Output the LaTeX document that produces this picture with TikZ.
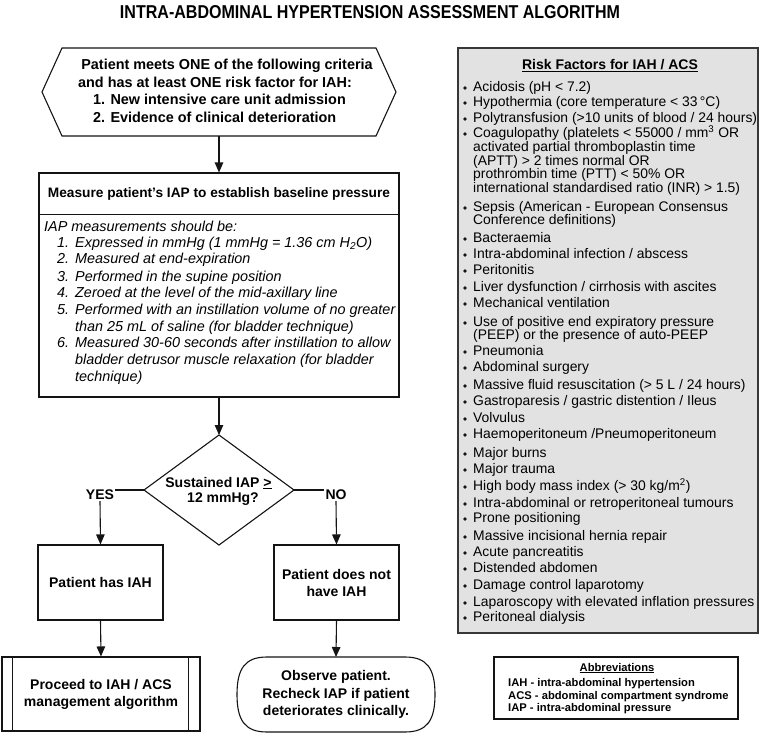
\documentclass[tikz,border=0pt]{standalone}
\usepackage{fontspec}
\setmainfont{Liberation Sans}
\usetikzlibrary{arrows.meta,calc}
\definecolor{riskfill}{RGB}{226,226,226}
\definecolor{inkc}{RGB}{20,20,20}
\tikzset{
 box/.style={draw=inkc, line width=1.1pt, inner sep=0pt},
 ghost/.style={inner sep=0pt, outer sep=0pt},
 flow/.style={font=\fontsize{14}{17}\selectfont\bfseries, align=center},
 lbl/.style={font=\fontsize{14}{16}\selectfont\bfseries, inner sep=1pt},
 arr/.style={draw=inkc, line width=1.1pt, -{Triangle[length=10pt,width=8.5pt]}},
 conn/.style={draw=inkc, line width=1.1pt},
 rf/.style={anchor=base west, inner sep=0pt, font=\fontsize{13.9}{16}\selectfont},
 itl/.style={anchor=base west, inner sep=0pt, font=\fontsize{14.4}{16}\selectfont\itshape},
 hx/.style={anchor=base, inner sep=0pt, font=\fontsize{14.4}{16}\selectfont\bfseries},
 hxl/.style={anchor=base west, inner sep=0pt, font=\fontsize{14.4}{16}\selectfont\bfseries},
 ab/.style={anchor=base west, inner sep=0pt, font=\fontsize{11.2}{13}\selectfont\bfseries},
}
\begin{document}
\begin{tikzpicture}[x=1pt,y=-1pt]
\useasboundingbox (0,0) rectangle (760,733);

% title
\node[ghost] (title) at (370,12.5) {\resizebox{500pt}{13pt}{\bfseries INTRA-ABDOMINAL HYPERTENSION ASSESSMENT ALGORITHM}};

% hexagon
\node[ghost, minimum width=314pt, minimum height=88pt] (hex) at (219,92) {};
\draw[conn] (hex.north west) -- (hex.north east) -- ($(hex.east)+(20,0)$) -- (hex.south east) -- (hex.south west) -- ($(hex.west)+(-20,0)$) -- cycle;
\node[hx] (h1) at (227,70) {Patient meets ONE of the following criteria};
\node[hx] (h2) at (215,88) {and has at least ONE risk factor for IAH:};
\node[hxl] (h3) at (93,105) {1. New intensive care unit admission};
\node[hxl] (h4) at (93,123) {2. Evidence of clinical deterioration};

% measure box
\node[box, minimum width=360pt, minimum height=224pt] (meas) at (219,285) {};
\draw[conn] ($(meas.north west)+(0,42)$) -- ($(meas.north east)+(0,42)$);
\node[font=\fontsize{13.7}{16}\selectfont\bfseries, inner sep=0pt] (mh) at (219,194) {Measure patient’s IAP to establish baseline pressure};
\node[itl] (m0) at (44,231.5) {IAP measurements should be:};
\foreach \y/\n/\t in {247.5/1./{Expressed in mmHg (1 mmHg = 1.36 cm H\textsubscript{2}O)},
  263.5/2./{Measured at end-expiration},
  281.5/3./{Performed in the supine position},
  297.5/4./{Zeroed at the level of the mid-axillary line},
  314.5/5./{Performed with an instillation volume of no greater},
  347.5/6./{Measured 30-60 seconds after instillation to allow}}{
  \node[itl] (mn\n) at (57,\y) {\n};
  \node[itl] (mt\n) at (75,\y) {\t};
}
\foreach \y/\t in {331.5/{than 25 mL of saline (for bladder technique)},
  364.5/{bladder detrusor muscle relaxation (for bladder},
  381.5/{technique)}}{
  \node[itl] (mc\y) at (75,\y) {\t};
}

% decision
\node[ghost, minimum width=150pt, minimum height=110pt] (dia) at (219,490) {};
\draw[conn] (dia.north) -- (dia.east) -- (dia.south) -- (dia.west) -- cycle;
\node[hx, font=\fontsize{14}{16}\selectfont\bfseries] (d1) at (218.5,487) {Sustained IAP \underline{>}};
\node[hx, font=\fontsize{14}{16}\selectfont\bfseries] (d2) at (223,502) {12 mmHg?};

\node[lbl] (yes) at (100,495) {YES};
\node[lbl] (no) at (336,495) {NO};

% outcome boxes
\node[box, flow, minimum width=125pt, minimum height=75pt] (yesbox) at (100.5,582.5) {Patient has IAH};
\node[box, flow, minimum width=125pt, minimum height=75pt] (nobox) at (336.5,582.5) {Patient does not\\have IAH};

\node[box, flow, minimum width=198pt, minimum height=74pt] (pre) at (101,694) {Proceed to IAH / ACS\\management algorithm};
\draw[conn] ($(pre.north west)+(11,0)$) -- ($(pre.south west)+(11,0)$);
\draw[conn] ($(pre.north east)+(-12,0)$) -- ($(pre.south east)+(-12,0)$);

\node[ghost, flow, font=\fontsize{14}{17.5}\selectfont\bfseries, minimum width=198pt, minimum height=75pt] (term) at (336,694.5) {Observe patient.\\Recheck IAP if patient\\deteriorates clinically.};
\draw[conn] ($(term.north west)+(30,0)$) -- ($(term.north east)+(-30,0)$)
  .. controls ($(term.north east)+(-8,0)$) and ($(term.east)+(0,-26)$) .. (term.east)
  .. controls ($(term.east)+(0,26)$) and ($(term.south east)+(-8,0)$) .. ($(term.south east)+(-30,0)$)
  -- ($(term.south west)+(30,0)$)
  .. controls ($(term.south west)+(8,0)$) and ($(term.west)+(0,26)$) .. (term.west)
  .. controls ($(term.west)+(0,-26)$) and ($(term.north west)+(8,0)$) .. ($(term.north west)+(30,0)$) -- cycle;

% connectors
\draw[arr] (hex.south) -- (meas.north);
\draw[arr] (meas.south) -- (dia.north);
\draw[conn] (dia.west) -- (dia.west -| yes.east);
\draw[conn] (dia.east) -- (dia.east -| no.west);
\draw[arr] (yes.south) -- (yesbox.north);
\draw[arr] (no.south) -- (nobox.north);
\draw[arr] (yesbox.south) -- (pre.north);
\draw[arr] (nobox.south) -- (term.north);

% risk factor box
\node[draw=inkc!85, line width=1.5pt, fill=riskfill, minimum width=300pt, minimum height=585pt, inner sep=0pt] (risk) at (608,340.5) {};
\node[font=\fontsize{14}{16}\selectfont\bfseries, inner sep=0pt] (rtitle) at (610,66) {\underline{Risk Factors for IAH / ACS}};
\foreach \y/\t in {87/{Acidosis (pH < 7.2)},
 102/{Hypothermia (core temperature < 33\,°C)},
 118/{Polytransfusion (>10 units of blood / 24 hours)},
 133/{Coagulopathy (platelets < 55000 / mm\textsuperscript{3} OR},
 207/{Sepsis (American - European Consensus},
 238/{Bacteraemia},
 254/{Intra-abdominal infection / abscess},
 270/{Peritonitis},
 287/{Liver dysfunction / cirrhosis with ascites},
 303/{Mechanical ventilation},
 322/{Use of positive end expiratory pressure},
 351/{Pneumonia},
 367/{Abdominal surgery},
 385/{Massive fluid resuscitation (> 5 L / 24 hours)},
 401/{Gastroparesis / gastric distention / Ileus},
 418/{Volvulus},
 434/{Haemoperitoneum /Pneumoperitoneum},
 453/{Major burns},
 469/{Major trauma},
 486/{High body mass index (> 30 kg/m\textsuperscript{2})},
 503/{Intra-abdominal or retroperitoneal tumours},
 518/{Prone positioning},
 536/{Massive incisional hernia repair},
 552/{Acute pancreatitis},
 568/{Distended abdomen},
 585/{Damage control laparotomy},
 602/{Laparoscopy with elevated inflation pressures},
 617/{Peritoneal dialysis}}{
  \fill[inkc] (465,\y+1) circle (1.9);
  \node[rf] (r\y) at (473,\y+4.5) {\t};
}
\foreach \y/\t in {147/{activated partial thromboplastin time},
 161/{(APTT) > 2 times normal OR},
 174/{prothrombin time (PTT) < 50\% OR},
 188/{international standardised ratio (INR) > 1.5)},
 220/{Conference definitions)},
 335/{(PEEP) or the presence of auto-PEEP}}{
  \node[rf] (rc\y) at (473,\y+4.5) {\t};
}

% abbreviations
\node[box, minimum width=244pt, minimum height=62pt] (abbr) at (616,688) {};
\node[font=\fontsize{11.2}{13}\selectfont\bfseries, inner sep=0pt] (atitle) at (617,668) {\underline{Abbreviations}};
\node[ab] (a1) at (508,686) {IAH - intra-abdominal hypertension};
\node[ab] (a2) at (508,699) {ACS - abdominal compartment syndrome};
\node[ab] (a3) at (508,711) {IAP - intra-abdominal pressure};
\end{tikzpicture}
\end{document}
